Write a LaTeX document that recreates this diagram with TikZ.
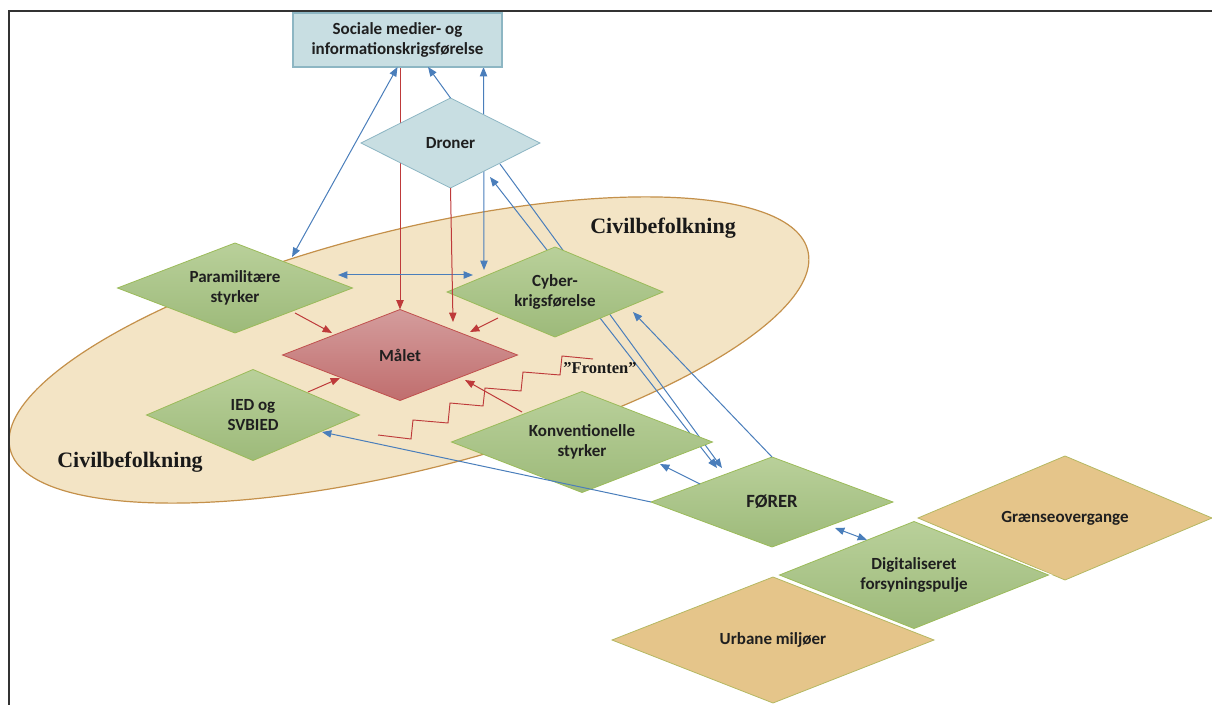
\documentclass[tikz,border=0pt]{standalone}
\usepackage{fontspec}
\setmainfont{Carlito}
\newfontfamily\timesf{Liberation Serif}
\usetikzlibrary{shapes.geometric,arrows.meta,calc}
\definecolor{bluefill}{HTML}{C8DEE2}
\definecolor{blueline}{HTML}{8DB6C3}
\definecolor{arrblue}{HTML}{4A7EBB}
\definecolor{arrred}{HTML}{BE3A3A}
\definecolor{gtop}{HTML}{B9D09A}
\definecolor{gbot}{HTML}{9DBA7A}
\definecolor{gline}{HTML}{9BBB59}
\definecolor{rtop}{HTML}{D49C9C}
\definecolor{rbot}{HTML}{C06E6E}
\definecolor{rline}{HTML}{C0504D}
\definecolor{tanfill}{HTML}{E5C58A}
\definecolor{tanline}{HTML}{B5B862}
\definecolor{ellfill}{HTML}{F3E4C5}
\definecolor{ellline}{HTML}{C4904A}
\pgfdeclarelayer{back}
\pgfdeclarelayer{mid}
\pgfsetlayers{back,mid,main}
\begin{document}
\begin{tikzpicture}[x=0.75pt,y=-0.75pt,
  lbl/.style={font=\bfseries\fontsize{12.75pt}{14.5pt}\selectfont, align=center, text=black!88},
  dsize/.style 2 args={minimum width=#1*0.75pt, minimum height=#2*0.75pt},
  dia/.style={diamond, aspect=2.5, inner sep=0pt, outer sep=0pt, lbl, line width=0.6pt},
  greendia/.style={dia, draw=gline, top color=gtop, bottom color=gbot},
  bluedia/.style={dia, draw=blueline, fill=bluefill},
  reddia/.style={dia, draw=rline, top color=rtop, bottom color=rbot},
  tandia/.style={dia, draw=tanline, fill=tanfill},
  halo/.style={preaction={draw=white, line width=2.4pt}},
  bluebox/.style={rectangle, inner sep=0pt, outer sep=0pt, lbl, draw=blueline, fill=bluefill, line width=0.8pt},
  civ/.style={font=\timesf\bfseries\fontsize{16.5pt}{18pt}\selectfont, text=black!90},
  barrow/.style={draw=arrblue, line width=0.75pt, -{Triangle[length=7pt,width=5.5pt]}},
  bboth/.style={draw=arrblue, line width=0.75pt, {Triangle[length=7pt,width=5.5pt]}-{Triangle[length=7pt,width=5.5pt]}},
  rarrow/.style={draw=arrred, line width=0.75pt, -{Triangle[length=7pt,width=5.5pt]}},
]
\useasboundingbox (0,0) rectangle (1212,705);

% frame
\draw[line width=1.8pt, black!80] (9,705) -- (9,11) -- (1212,11);

% population ellipse
\begin{pgfonlayer}{back}
\draw[fill=ellfill, draw=ellline, line width=0.9pt, rotate around={14:(409,350)}]
  (409,350) ellipse [x radius=411, y radius=120];
\end{pgfonlayer}
\node[civ] (civ1) at (663,228) {Civilbefolkning};
\node[civ] (civ2) at (130,462) {Civilbefolkning};

% nodes
\node[bluebox, dsize={209}{54}] (box) at (397.5,40) {Sociale medier- og\\informationskrigsførelse};
\node[bluedia, dsize={179}{90}] (droner) at (450.5,143) {Droner};
\node[greendia, dsize={235}{90}] (para) at (235,288) {Paramilitære\\styrker};
\node[greendia, dsize={216}{90}] (cyber) at (555,292) {Cyber-\\krigsførelse};
\node[reddia, dsize={235}{91}] (malet) at (400,355) {Målet};
\node[greendia, dsize={213}{91}] (ied) at (253,415) {IED og\\SVBIED};
\node[greendia, dsize={261}{101}] (konv) at (582,442) {Konventionelle\\styrker};
\node[greendia, dsize={242}{90}, font=\bfseries\fontsize{14pt}{16pt}\selectfont] (forer) at (772,502) {FØRER};
\node[tandia, dsize={294}{124}] (graense) at (1065,518) {Grænseovergange};
\node[tandia, dsize={322}{126}] (urban) at (773,640) {Urbane miljøer};
\node[greendia, halo, dsize={269}{107}] (digit) at (914,575) {Digitaliseret\\forsyningspulje};

% the front line
\draw[arrred, line width=0.7pt] (378,435) -- (411,439) -- (413,420) -- (448,423) -- (450,403)
  -- (483,406) -- (485,388) -- (521,391) -- (523,372) -- (560,375) -- (562,356) -- (593,359);
\node[font=\timesf\bfseries\fontsize{12.4pt}{14pt}\selectfont, text=black!90] (front) at (600,368) {”Fronten”};

% connectors passing behind nodes
\begin{pgfonlayer}{mid}
\draw[rarrow] (malet.north |- box.south) -- (malet.north);
\draw[bboth] ($(cyber)+(-71,-22)$) -- ($(box.south)+(86,0)$);
\draw[bboth] ($(droner)+(39.5,34)$) -- ($(forer)+(-55,-34)$);
\draw[barrow] ($(droner)+(49.5,21)$) -- ($(forer)+(-50,-34)$);
\end{pgfonlayer}

% blue connectors
\draw[bboth] ($(para)+(57,-31)$) -- (box.south);
\draw[barrow] (droner.north) -- ($(box.south)+(30.5,0)$);
\draw[barrow] (forer.north) -- ($(cyber)+(78,20)$);
\draw[barrow] ($(forer)+(-72,-18)$) -- ($(konv)+(78,22)$);
\draw[barrow] (forer.west) -- ($(ied)+(69,17)$);
\draw[bboth] ($(para)+(103,-13)$) -- ($(cyber)+(-82,-17)$);
\draw[bboth] ($(forer)+(63,26)$) -- ($(digit)+(-47,-35)$);

% red connectors
\draw[rarrow] (droner.south) -- ($(malet)+(53,-33)$);
\draw[rarrow] ($(para)+(60,25)$) -- ($(malet)+(-68,-22)$);
\draw[rarrow] ($(cyber)+(-57,26)$) -- ($(malet)+(70,-23)$);
\draw[rarrow] ($(ied)+(55,-23)$) -- ($(malet)+(-60,23)$);
\draw[rarrow] ($(konv)+(-60,-30)$) -- ($(malet)+(65,25)$);
\end{tikzpicture}
\end{document}
